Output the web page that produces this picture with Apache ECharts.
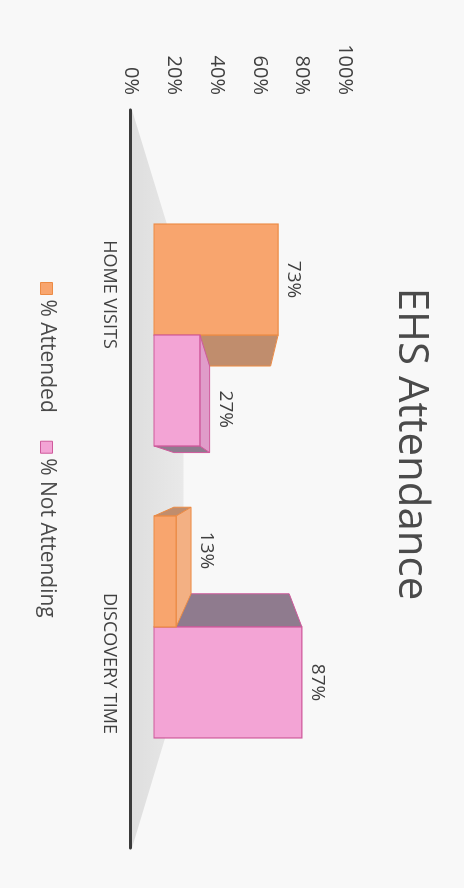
<!DOCTYPE html>
<html>
<head>
<meta charset="utf-8">
<script src="https://cdn.jsdelivr.net/npm/echarts@6/dist/echarts.min.js"></script>
<style>
  html, body { margin: 0; padding: 0; width: 464px; height: 888px; overflow: hidden; background: #f8f8f8; }
  /* chart is laid out landscape, then turned a quarter clockwise like the scan */
  #chart { position: absolute; left: 0; top: 0; width: 888px; height: 464px;
           transform-origin: 0 0; transform: translate(464px, 0) rotate(90deg); }
</style>
</head>
<body>
<div id="chart"></div>
<script>
var categories = ['HOME VISITS', 'DISCOVERY TIME'];
var attended = [0.73, 0.13];
var notAttending = [0.27, 0.87];
var valueTicks = [0, 0.2, 0.4, 0.6, 0.8, 1];

// fake 3D: back faces are the front faces pulled toward a vanishing point
var VX = 476, VY = 220;
var DEPTH = 0.22;
var FLOOR_DEPTH = 0.46;

var orange = { front: '#f8a56e', side: '#c08d6d', top: '#f3b083', edge: '#ec8b45' };
var pink = { front: '#f3a4d5', side: '#8f7b8e', top: '#e09cc9', edge: '#cf5a9c' };

function toward(p, k) {
  return [p[0] + k * (VX - p[0]), p[1] + k * (VY - p[1])];
}

function bar3d(c, side) {
  return function (params, api) {
    var cat = api.value(0);
    var base = api.coord([cat, 0]);
    var top = api.coord([cat, api.value(1)]);
    var w = api.size([1, 0])[0] * 0.38;
    var x0 = side < 0 ? base[0] - w : base[0];
    var x1 = x0 + w;
    var y0 = top[1], y1 = base[1];
    var fTL = [x0, y0], fTR = [x1, y0], fBL = [x0, y1], fBR = [x1, y1];
    var bTL = toward(fTL, DEPTH), bTR = toward(fTR, DEPTH);
    var bBL = toward(fBL, DEPTH), bBR = toward(fBR, DEPTH);
    // bars further from the vanishing point are painted first
    var z = Math.round(2000 - Math.abs((x0 + x1) / 2 - VX)) * 4;
    var kids = [];
    function face(pts, fill) {
      kids.push({ type: 'polygon', z2: z, shape: { points: pts },
        style: { fill: fill, stroke: c.edge, lineWidth: 1 } });
    }
    if (VX > x1) face([fTR, bTR, bBR, fBR], c.side);
    if (VX < x0) face([fTL, bTL, bBL, fBL], c.side);
    var topSeen = VY < y0;
    if (topSeen) face([fTL, fTR, bTR, bTL], c.top);
    kids.push({ type: 'rect', z2: z + 1, shape: { x: x0, y: y0, width: w, height: y1 - y0 },
      style: { fill: c.front, stroke: c.edge, lineWidth: 1.2 } });
    var lx = topSeen ? (bTL[0] + bTR[0]) / 2 : (x0 + x1) / 2;
    var ly = (topSeen ? bTL[1] : y0) - 6;
    kids.push({ type: 'text', z2: 20000, x: lx, y: ly,
      style: { text: Math.round(api.value(1) * 100) + '%', fill: '#404040',
        font: '19px "Open Sans"', align: 'center', verticalAlign: 'bottom' } });
    return { type: 'group', children: kids };
  };
}

function floor(params, api) {
  var cs = params.coordSys;
  var fl = [cs.x, cs.y + cs.height - 1], fr = [cs.x + cs.width, cs.y + cs.height - 1];
  return {
    type: 'polygon',
    shape: { points: [fl, fr, toward(fr, FLOOR_DEPTH), toward(fl, FLOOR_DEPTH)] },
    style: { fill: new echarts.graphic.LinearGradient(0, 1, 0, 0, [
      { offset: 0, color: '#dedede' }, { offset: 1, color: '#e9e9e9' }]) }
  };
}

var chart = echarts.init(document.getElementById('chart'), null, { renderer: 'canvas' });

chart.setOption({
  backgroundColor: '#f8f8f8',
  animation: false,
  title: {
    text: 'EHS Attendance', left: 'center', top: 27,
    textStyle: { fontFamily: 'Open Sans', fontSize: 42, fontWeight: 'normal', color: '#4a4a4a' }
  },
  legend: {
    left: 282, top: 407, itemWidth: 12, itemHeight: 12, itemGap: 28, padding: 0,
    textStyle: { fontFamily: 'Open Sans', fontSize: 21, color: '#4a4a4a' },
    data: [
      { name: '% Attended', icon: 'rect', itemStyle: { color: orange.front, borderColor: orange.edge, borderWidth: 1 } },
      { name: '% Not Attending', icon: 'rect', itemStyle: { color: pink.front, borderColor: pink.edge, borderWidth: 1 } }
    ]
  },
  grid: [
    { left: 110, right: 40, top: 119, bottom: 131 },
    { left: 189, right: 115, top: 140, bottom: 154 }
  ],
  xAxis: [
    {
      type: 'category', gridIndex: 0, data: categories,
      axisLine: { lineStyle: { color: '#3a3a3a', width: 3 } },
      axisTick: { show: false },
      axisLabel: { margin: 13, fontFamily: 'Open Sans', fontSize: 18, color: '#404040' }
    },
    { type: 'category', gridIndex: 1, data: categories, show: false }
  ],
  yAxis: [
    {
      type: 'value', gridIndex: 0, min: valueTicks[0], max: valueTicks[valueTicks.length - 1],
      interval: valueTicks[1] - valueTicks[0],
      axisLine: { show: false }, axisTick: { show: false }, splitLine: { show: false },
      axisLabel: { margin: 15, fontFamily: 'Open Sans', fontSize: 20, color: '#404040',
        formatter: function (v) { return Math.round(v * 100) + '%'; } }
    },
    { type: 'value', gridIndex: 1, min: 0, max: 1, show: false }
  ],
  series: [
    { type: 'custom', name: 'floor', xAxisIndex: 0, yAxisIndex: 0, z: -1, silent: true,
      renderItem: floor, data: [[0, 0]] },
    { type: 'custom', name: '% Attended', xAxisIndex: 1, yAxisIndex: 1,
      itemStyle: { color: orange.front },
      renderItem: bar3d(orange, -1),
      data: attended.map(function (v, i) { return [i, v]; }) },
    { type: 'custom', name: '% Not Attending', xAxisIndex: 1, yAxisIndex: 1,
      itemStyle: { color: pink.front },
      renderItem: bar3d(pink, 1),
      data: notAttending.map(function (v, i) { return [i, v]; }) }
  ]
});
</script>
</body>
</html>
